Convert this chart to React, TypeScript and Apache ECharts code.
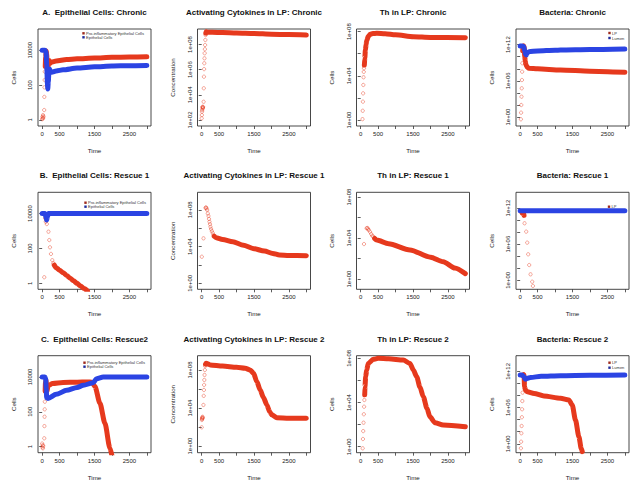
import React, { useEffect, useRef } from 'react';
import * as echarts from 'echarts';

// ---------------- texts & ticks ----------------
const titles = [
  'A.  Epithelial Cells: Chronic', 'Activating Cytokines in LP: Chronic', 'Th in LP: Chronic', 'Bacteria: Chronic',
  'B.  Epithelial Cells: Rescue 1', 'Activating Cytokines in LP: Rescue 1', 'Th in LP: Rescue 1', 'Bacteria: Rescue 1',
  'C.  Epithelial Cells: Rescue2', 'Activating Cytokines in LP: Rescue 2', 'Th in LP: Rescue 2', 'Bacteria: Rescue 2',
];
const yNames = ['Cells', 'Concentration', 'Cells', 'Cells'];
const xName = 'Time';
const legendEpi = ['Pro-inflammatory Epithelial Cells', 'Epithelial Cells'];
const legendBac = ['LP', 'Lumen'];

const timeTicks = [0, 500, 1000, 1500, 2000, 2500, 3000];
const timeLabels = [0, 500, 1500, 2500];
const epiTicks = [1, 100, 10000];
const cytoChronicTicks = [1e2, 1e4, 1e6, 1e8];
const decTicks8 = [1, 1e2, 1e4, 1e6, 1e8];
const decLabels8 = [1, 1e4, 1e8];
const bacTicks = [1, 1e2, 1e4, 1e6, 1e8, 1e10, 1e12];
const bacLabels = [1, 1e6, 1e12];

// y ranges (axis limits)
const yRangeEpi = [0.447, 1.66e5];
const yRangeCytoChronic = [33.1, 1.7e9];
const yRangeCytoR1 = [0.224, 7.94e9];
const yRangeCytoR2 = [0.2, 3.16e9];
const yRangeTh = [0.288, 1.74e8];
const yRangeThR1 = [0.1, 2.88e8];
const yRangeBac = [0.0331, 3.98e14];
const xRange = [-120, 3120];

// ---------------- data: [time, value] ----------------
// A. Epithelial chronic
const aProSparse = [[0, 1.1], [8, 1.5], [15, 1.2], [22, 1.9], [30, 1.3], [38, 1.6], [58, 3.7], [62, 21], [66, 74], [70, 195], [75, 590]];
const aProBand = [[88, 1.2e3], [100, 4e3], [115, 9e3], [130, 6e3], [145, 1.2e3], [158, 4.5e2], [175, 1.2e3], [200, 2.6e3], [225, 1.8e3], [260, 2.1e3], [400, 2.4e3], [700, 2.9e3], [1000, 3.2e3], [1500, 3.6e3], [2000, 3.9e3], [2500, 4.1e3], [3000, 4.2e3]];
const aEpiBand = [[0, 1e4], [80, 1e4], [110, 8e3], [130, 1.5e3], [150, 1.2e2], [160, 60], [175, 1.5e2], [195, 6.5e2], [215, 8e2], [240, 5.5e2], [272, 5.5e2], [400, 6.5e2], [600, 7.5e2], [1000, 9.5e2], [1500, 1.12e3], [2000, 1.25e3], [2500, 1.3e3], [3000, 1.35e3]];
// B. Epithelial rescue 1
const bProSparse = [[60, 2.2], [84, 5.4e3], [103, 3.4e3], [132, 2.5e3], [180, 9.1e2], [204, 3e2], [223, 1.15e2], [252, 48], [290, 21], [319, 14]];
const bProBand = [[345, 11], [400, 7.8], [500, 5.6], [600, 4], [700, 2.8], [800, 1.95], [900, 1.37], [1000, 0.98], [1100, 0.69], [1200, 0.49], [1300, 0.35]];
const bEpiBand = [[0, 1e4], [80, 1e4], [110, 6e3], [130, 4.3e3], [150, 6.5e3], [180, 1e4], [500, 1e4], [1000, 1e4], [2000, 1e4], [3000, 1e4]];
// C. Epithelial rescue 2
const cProSparse = [[0, 1.5], [8, 0.9], [15, 1.2], [22, 0.8], [30, 1.1], [60, 3], [64, 15], [68, 52], [72, 138], [76, 380]];
const cProBand = [[85, 1.5e3], [95, 5e3], [110, 6.5e3], [125, 2.5e3], [140, 1.5e3], [166, 3.2e3], [300, 4.2e3], [600, 4.8e3], [1000, 5e3], [1300, 5.2e3], [1424, 5e3], [1513, 2.8e3], [1656, 3.1e2], [1799, 22], [1943, 0.8], [2000, 0.3]];
const cEpiBand = [[0, 1e4], [80, 1e4], [100, 8e3], [115, 2e3], [129, 6.5e2], [145, 6e2], [166, 5.8e2], [400, 1e3], [700, 1.7e3], [1000, 2.5e3], [1178, 3.3e3], [1465, 4.7e3], [1560, 8e3], [1750, 1e4], [2000, 1e4], [3000, 1e4]];
// Activating cytokines
const cytoChronicSparse = [[0, 1.35e2], [5, 2.45e2], [10, 4.6e2], [15, 6.2e2], [20, 1.1e3], [25, 8e2], [30, 1e3], [35, 9e2], [40, 1.1e3], [55, 2.8e3], [60, 3.3e4], [65, 2.75e5], [70, 1.1e6], [75, 3.2e6], [80, 7.9e6], [85, 2e7], [92, 4.2e7], [98, 9.1e7], [105, 2.3e8], [112, 5.6e8]];
const cytoChronicBand = [[118, 8e8], [130, 1.05e9], [150, 9.5e8], [300, 9.2e8], [600, 8.9e8], [1000, 8.2e8], [1500, 7.4e8], [2000, 6.6e8], [2500, 6.1e8], [3000, 5.6e8]];
const cytoR1Sparse = [[3, 7.8e2], [52, 7.8e4], [110, 1.6e8], [125, 1.8e8], [140, 1.4e8], [157, 9.3e7], [175, 4e7], [195, 2.1e7], [210, 1e7], [223, 5e6], [238, 2.7e6], [252, 1.4e6], [270, 8e5], [290, 4.8e5], [315, 3e5], [338, 1.8e5]];
const cytoR1Band = [[360, 1.3e5], [414, 9.1e4], [600, 6e4], [893, 3.3e4], [1200, 1.4e4], [1466, 6.3e3], [1800, 3.2e3], [2039, 1.8e3], [2230, 1.2e3], [2500, 1.05e3], [3000, 1e3]];
const cytoR2Sparse = [[0, 93], [5, 5.5e2], [10, 8.3e2], [15, 7e2], [20, 1e3], [25, 1.2e3], [30, 9e2], [50, 2.1e4], [58, 1.9e5], [64, 7.9e5], [70, 2.7e6], [76, 8.9e6], [82, 3e7], [90, 1e8], [100, 2.5e8]];
const cytoR2Band = [[110, 4e8], [122, 5.1e8], [245, 3.4e8], [600, 2.6e8], [1000, 1.9e8], [1248, 1.5e8], [1391, 1e8], [1487, 4.5e7], [1580, 6e6], [1678, 8e5], [1770, 1.3e5], [1869, 2.1e4], [1950, 4e3], [2012, 1.9e3], [2155, 9.5e2], [2500, 8.5e2], [3000, 8.3e2]];
// Th in LP
const thChronicSparse = [[52, 1.2], [58, 6.9], [64, 46], [70, 2.6e2], [76, 1.5e3], [82, 7.4e3], [88, 2.3e4], [94, 4.8e4]];
const thChronicBand = [[105, 9.5e4], [118, 4e5], [135, 2.2e6], [155, 7e6], [176, 1.7e7], [220, 3.8e7], [272, 5.8e7], [350, 6.8e7], [461, 7.1e7], [700, 6.5e7], [1000, 5.2e7], [1513, 3.5e7], [2000, 3e7], [3000, 2.8e7]];
const thR1Sparse = [[95, 2.6e3], [170, 8.9e4], [190, 9.5e4], [210, 8e4], [230, 6e4], [266, 4.1e4], [300, 2.5e4], [330, 1.7e4], [361, 1.35e4]];
const thR1Band = [[400, 9e3], [458, 6.3e3], [800, 2.8e3], [1413, 6.8e2], [2000, 1.35e2], [2367, 49], [2700, 12], [3000, 3.4]];
const thR2Sparse = [[57, 0.72], [65, 5], [73, 26], [82, 1.5e2], [90, 8.7e2], [98, 4.2e3], [106, 1.7e4]];
const thR2Band = [[115, 5e4], [123, 2.7e5], [143, 2.2e6], [172, 8.7e6], [218, 3.5e7], [361, 8.1e7], [504, 1e8], [800, 9e7], [1221, 7.1e7], [1413, 3.5e7], [1510, 9e6], [1605, 2.2e6], [1700, 2.5e5], [1795, 3.4e4], [1900, 3e3], [1986, 5.2e2], [2129, 1.5e2], [2367, 93], [3000, 65]];
// Bacteria
const lpChronicSparse = [[20, 0.43], [26, 5.4], [32, 1e2], [38, 2.4e3], [44, 5.9e4], [50, 1.4e6], [56, 3.3e7], [62, 8.3e8]];
const lpChronicBand = [[72, 1e11], [85, 5e11], [100, 6.8e11], [115, 4e11], [130, 1e10], [145, 2e9], [165, 5e8], [200, 2e8], [250, 1.2e8], [500, 1e8], [1157, 6.3e7], [2000, 4e7], [3000, 2.6e7]];
const lumenChronicBand = [[0, 6e11], [60, 6e11], [100, 5e11], [130, 1e11], [150, 3e10], [175, 1.95e10], [200, 4e10], [250, 6.9e10], [500, 9e10], [1000, 1.2e11], [1157, 1.3e11], [2000, 1.6e11], [3000, 1.95e11]];
const lpR1Sparse = [[125, 2.9e9], [173, 1.2e8], [202, 1.8e6], [230, 2.1e4], [259, 3.5e2], [297, 10], [345, 0.6], [365, 0.12]];
const lpR1Band = [[50, 1.6e11], [75, 2e11], [95, 1.5e11], [110, 6e10]];
const lumenR1Band = [[0, 3.5e11], [500, 3.5e11], [1000, 3.5e11], [1500, 3.5e11], [2000, 3.5e11], [2500, 3.5e11], [3000, 3.5e11]];
const lpR2Sparse = [[20, 0.18], [27, 2.2], [34, 55], [41, 8.9e2], [48, 2.5e4], [55, 5.2e5], [62, 1.2e7], [69, 3e8]];
const lpR2Band = [[80, 2e11], [95, 3e11], [110, 2.5e11], [125, 2.9e9], [150, 8.3e8], [202, 4.3e8], [400, 2.2e8], [680, 8.3e7], [1157, 3.5e7], [1396, 1.8e7], [1491, 2.7e6], [1586, 8.7e3], [1683, 15], [1749, 0.18], [1780, 0.05]];
const lumenR2Band = [[0, 2.5e11], [60, 2.5e11], [100, 1.5e11], [153, 4.9e10], [200, 7e10], [297, 1e11], [600, 1.5e11], [1157, 1.95e11], [2000, 2.3e11], [3000, 2.5e11]];

// ---------------- styling / layout ----------------
const RED = '#E6391D';
const BLUE = '#2B44E3';
const LEG_RED = '#9E2A1C';
const LEG_BLUE = '#1F2C9C';
const FONT = '"Liberation Sans", Arial, Helvetica, sans-serif';
const INK = '#222';
const COLS = [38, 197.5, 356.5, 516];
const ROWS = [29, 192.3, 355.7];
const BOX_W = 113;
const BOX_H = 97;
const TITLE_Y = [13.3, 176, 340];

type Curve = { name: string; color: string; sparse?: number[][]; band: number[][] };
type Panel = {
  yRange: number[]; yTicks: number[]; yLabels: number[]; epiFmt?: boolean;
  curves: Curve[]; legend?: { names: string[]; x: number; y: number; dy: number };
};

const panels: Panel[] = [
  { yRange: yRangeEpi, yTicks: epiTicks, yLabels: epiTicks, epiFmt: true,
    curves: [{ name: legendEpi[0], color: RED, sparse: aProSparse, band: aProBand }, { name: legendEpi[1], color: BLUE, band: aEpiBand }],
    legend: { names: legendEpi, x: 83.5, y: 33.3, dy: 4 } },
  { yRange: yRangeCytoChronic, yTicks: cytoChronicTicks, yLabels: cytoChronicTicks,
    curves: [{ name: 'Activating Cytokines', color: RED, sparse: cytoChronicSparse, band: cytoChronicBand }] },
  { yRange: yRangeTh, yTicks: decTicks8, yLabels: decLabels8,
    curves: [{ name: 'Th', color: RED, sparse: thChronicSparse, band: thChronicBand }] },
  { yRange: yRangeBac, yTicks: bacTicks, yLabels: bacLabels,
    curves: [{ name: legendBac[0], color: RED, sparse: lpChronicSparse, band: lpChronicBand }, { name: legendBac[1], color: BLUE, band: lumenChronicBand }],
    legend: { names: legendBac, x: 609.5, y: 33, dy: 5 } },

  { yRange: yRangeEpi, yTicks: epiTicks, yLabels: epiTicks, epiFmt: true,
    curves: [{ name: legendEpi[0], color: RED, sparse: bProSparse, band: bProBand }, { name: legendEpi[1], color: BLUE, band: bEpiBand }],
    legend: { names: legendEpi, x: 85.5, y: 202.7, dy: 4 } },
  { yRange: yRangeCytoR1, yTicks: decTicks8, yLabels: decLabels8,
    curves: [{ name: 'Activating Cytokines', color: RED, sparse: cytoR1Sparse, band: cytoR1Band }] },
  { yRange: yRangeThR1, yTicks: decTicks8, yLabels: decLabels8,
    curves: [{ name: 'Th', color: RED, sparse: thR1Sparse, band: thR1Band }] },
  { yRange: yRangeBac, yTicks: bacTicks, yLabels: bacLabels,
    curves: [{ name: legendBac[0], color: RED, sparse: lpR1Sparse, band: lpR1Band }, { name: legendBac[1], color: BLUE, band: lumenR1Band }],
    legend: { names: legendBac, x: 609, y: 206.7, dy: 5 } },

  { yRange: yRangeEpi, yTicks: epiTicks, yLabels: epiTicks, epiFmt: true,
    curves: [{ name: legendEpi[0], color: RED, sparse: cProSparse, band: cProBand }, { name: legendEpi[1], color: BLUE, band: cEpiBand }],
    legend: { names: legendEpi, x: 84.5, y: 362.7, dy: 4 } },
  { yRange: yRangeCytoR2, yTicks: decTicks8, yLabels: decLabels8,
    curves: [{ name: 'Activating Cytokines', color: RED, sparse: cytoR2Sparse, band: cytoR2Band }] },
  { yRange: yRangeTh, yTicks: decTicks8, yLabels: decLabels8,
    curves: [{ name: 'Th', color: RED, sparse: thR2Sparse, band: thR2Band }] },
  { yRange: yRangeBac, yTicks: bacTicks, yLabels: bacLabels,
    curves: [{ name: legendBac[0], color: RED, sparse: lpR2Sparse, band: lpR2Band }, { name: legendBac[1], color: BLUE, band: lumenR2Band }],
    legend: { names: legendBac, x: 609.5, y: 362.7, dy: 5 } },
];

const expFmt = (v: number) => {
  const e = Math.round(Math.log10(v));
  return '1e+' + String(e).padStart(2, '0');
};
const epiFmt = (v: number) => String(Math.round(v));
const timeFmt = (v: number) => String(Math.round(v));

export default function App() {
  const ref = useRef<HTMLDivElement>(null);
  useEffect(() => {
    document.body.style.margin = '0';
    const chart = echarts.init(ref.current as HTMLDivElement, null, { renderer: 'svg' });
    const grid: any[] = [];
    const xAxis: any[] = [];
    const yAxis: any[] = [];
    const series: any[] = [];
    const title: any[] = [];
    const graphic: any[] = [];
    const tickLine = { color: '#333', width: 0.8 };

    panels.forEach((p, i) => {
      const r = Math.floor(i / 4);
      const c = i % 4;
      const left = COLS[c];
      const top = ROWS[r];
      grid.push({ left, top, width: BOX_W, height: BOX_H, show: true, borderColor: '#333', borderWidth: 0.9, backgroundColor: 'transparent' });
      title.push({
        text: titles[i], left: left + BOX_W / 2, top: TITLE_Y[r] - 4.5, textAlign: 'center', padding: 0,
        textStyle: { fontSize: 8, fontWeight: 'bold', fontFamily: FONT, color: '#111' },
      });
      xAxis.push({
        gridIndex: i, type: 'value', min: xRange[0], max: xRange[1],
        name: xName, nameLocation: 'middle', nameGap: 21.5,
        nameTextStyle: { fontSize: 6.2, fontFamily: FONT, color: INK },
        axisLine: { show: false }, splitLine: { show: false },
        axisTick: { show: true, length: 3, customValues: timeTicks, lineStyle: tickLine },
        axisLabel: { customValues: timeLabels, margin: 5, fontSize: 6, fontFamily: FONT, color: INK, formatter: timeFmt },
      });
      yAxis.push({
        gridIndex: i, type: 'log', logBase: 10, min: p.yRange[0], max: p.yRange[1],
        name: yNames[c], nameLocation: 'middle', nameGap: 22,
        nameTextStyle: { fontSize: 6.2, fontFamily: FONT, color: INK },
        axisLine: { show: false }, splitLine: { show: false }, minorTick: { show: false },
        axisTick: { show: true, length: 3, customValues: p.yTicks, lineStyle: tickLine },
        axisLabel: {
          customValues: p.yLabels, rotate: 90, margin: 5, fontSize: 6, fontFamily: FONT, color: INK,
          formatter: p.epiFmt ? epiFmt : expFmt,
        },
      });
      p.curves.forEach((cv) => {
        series.push({
          type: 'line', name: cv.name, xAxisIndex: i, yAxisIndex: i, data: cv.band,
          showSymbol: false, smooth: 0.25, smoothMonotone: 'x', clip: true,
          lineStyle: { color: cv.color, width: 5, cap: 'round', join: 'round' },
          itemStyle: { color: cv.color }, silent: true, z: cv.color === BLUE ? 3 : 2,
        });
        if (cv.sparse) {
          series.push({
            type: 'scatter', name: cv.name, xAxisIndex: i, yAxisIndex: i, data: cv.sparse,
            symbol: 'circle', symbolSize: 3.3, clip: true, silent: true,
            itemStyle: { color: 'rgba(0,0,0,0)', borderColor: cv.color, borderWidth: 0.6, opacity: 0.75 },
          });
        }
      });
      if (p.legend) {
        const L = p.legend;
        L.names.forEach((nm, k) => {
          const yc = L.y + k * L.dy;
          graphic.push({ type: 'rect', shape: { x: L.x - 1.2, y: yc - 1.2, width: 2.4, height: 2.4 }, style: { fill: k === 0 ? LEG_RED : LEG_BLUE } });
          graphic.push({ type: 'text', style: { text: nm, x: L.x + 2.6, y: yc, fontSize: 4, fontFamily: FONT, fill: '#333', verticalAlign: 'middle', align: 'left' } });
        });
      }
    });

    chart.setOption({
      animation: false,
      backgroundColor: '#ffffff',
      title, grid, xAxis, yAxis, series, graphic,
    });
    return () => chart.dispose();
  }, []);
  return <div ref={ref} style={{ width: 637, height: 490 }} />;
}
